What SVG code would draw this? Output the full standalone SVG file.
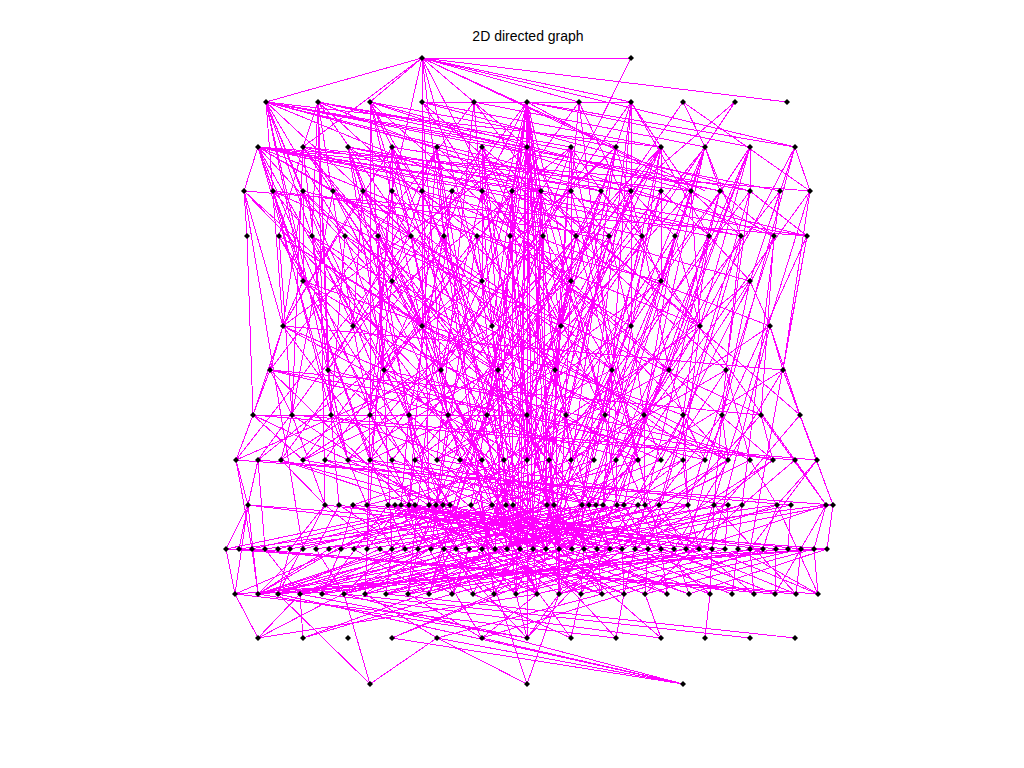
<svg xmlns="http://www.w3.org/2000/svg" xmlns:xlink="http://www.w3.org/1999/xlink" width="1024" height="768" viewBox="0 0 1024 768">
<style>
.e path{stroke:#ff00ff;stroke-width:1;fill:none;shape-rendering:crispEdges}
.nd{fill:#000}
.t{font-family:"Liberation Sans",Arial,sans-serif;font-size:14px;fill:#000}
</style>
<defs><path id="d" class="nd" d="M0-3L3 0L0 3L-3 0Z"/></defs>
<rect width="1024" height="768" fill="#fff"/>
<text class="t" x="528" y="41" text-anchor="middle">2D directed graph</text>
<g id="edges" class="e">
<path d="M422 58L631 58"/><path d="M422 58L266 102"/><path d="M422 58L787 102"/><path d="M422 58L303 147"/><path d="M422 58L370 102"/><path d="M422 58L392 191"/><path d="M422 58L444 236"/><path d="M422 58L527 147"/><path d="M422 58L616 147"/><path d="M422 58L631 102"/><path d="M422 58L579 102"/><path d="M422 58L482 281"/><path d="M422 58L705 191"/><path d="M422 58L422 326"/><path d="M422 58L561 326"/><path d="M631 58L543 236"/><path d="M422 58L795 147"/>
<path d="M266 102L527 147"/><path d="M266 102L661 147"/><path d="M266 102L601 191"/><path d="M266 102L345 236"/><path d="M266 102L283 326"/><path d="M266 102L303 191"/><path d="M266 102L312 236"/><path d="M266 102L303 281"/><path d="M266 102L482 191"/><path d="M266 102L437 147"/><path d="M266 102L392 415"/><path d="M266 102L750 191"/><path d="M266 102L348 460"/><path d="M266 102L555 370"/><path d="M266 102L720 191"/><path d="M266 102L807 236"/>
<path d="M318 102L303 147"/><path d="M318 102L312 236"/><path d="M318 102L353 326"/><path d="M318 102L328 370"/><path d="M318 102L541 191"/><path d="M318 102L571 147"/><path d="M318 102L331 415"/><path d="M318 102L325 505"/><path d="M318 102L720 191"/><path d="M318 102L411 236"/><path d="M318 102L612 370"/><path d="M318 102L780 191"/>
<path d="M370 102L411 236"/><path d="M370 102L422 191"/><path d="M370 102L616 147"/><path d="M370 102L691 191"/><path d="M370 102L370 415"/><path d="M370 102L422 326"/><path d="M370 102L392 147"/><path d="M370 102L392 549"/><path d="M370 102L669 370"/><path d="M370 102L774 236"/>
<path d="M422 102L527 102"/><path d="M422 102L441 370"/><path d="M422 102L661 147"/><path d="M422 102L750 191"/><path d="M422 102L429 505"/><path d="M422 102L482 191"/><path d="M422 102L726 370"/>
<path d="M474 102L631 102"/><path d="M474 102L705 147"/><path d="M474 102L541 191"/><path d="M474 102L492 326"/><path d="M474 102L437 460"/><path d="M474 102L270 370"/>
<path d="M527 102L527 147"/><path d="M527 102L512 191"/><path d="M527 102L541 191"/><path d="M527 102L510 236"/><path d="M527 102L543 236"/><path d="M527 102L482 281"/><path d="M527 102L571 281"/><path d="M527 102L492 326"/><path d="M527 102L561 326"/><path d="M527 102L498 370"/><path d="M527 102L527 415"/><path d="M527 102L527 460"/><path d="M527 102L520 549"/><path d="M527 102L516 594"/><path d="M527 102L527 638"/><path d="M527 102L555 370"/><path d="M527 102L482 191"/><path d="M527 102L795 147"/><path d="M527 102L750 147"/><path d="M527 102L774 236"/><path d="M527 102L554 505"/><path d="M527 102L547 505"/><path d="M527 102L533 549"/><path d="M527 102L328 370"/>
<path d="M579 102L571 191"/><path d="M579 102L642 236"/><path d="M579 102L616 415"/><path d="M579 102L384 370"/>
<path d="M631 102L616 147"/><path d="M631 102L661 147"/><path d="M631 102L631 326"/><path d="M631 102L709 236"/><path d="M631 102L603 505"/><path d="M631 102L582 505"/><path d="M631 102L441 370"/>
<path d="M683 102L705 147"/><path d="M683 102L810 191"/><path d="M735 102L705 147"/><path d="M735 102L631 191"/><path d="M683 102L498 370"/><path d="M735 102L555 370"/>
<path d="M258 147L244 191"/><path d="M258 147L541 191"/><path d="M258 147L631 191"/><path d="M258 147L411 236"/><path d="M258 147L642 236"/><path d="M258 147L482 281"/><path d="M258 147L422 326"/><path d="M258 147L807 236"/><path d="M258 147L384 370"/><path d="M258 147L409 415"/><path d="M258 147L348 460"/><path d="M258 147L810 191"/><path d="M258 147L273 191"/><path d="M258 147L303 281"/><path d="M258 147L709 236"/><path d="M258 147L429 549"/><path d="M258 147L700 326"/><path d="M258 147L741 236"/>
<path d="M303 147L279 236"/><path d="M303 147L378 236"/><path d="M303 147L328 370"/><path d="M303 147L571 191"/><path d="M303 147L392 281"/><path d="M303 147L292 415"/><path d="M303 147L582 505"/><path d="M303 147L770 326"/><path d="M303 147L691 191"/>
<path d="M348 147L363 191"/><path d="M348 147L741 236"/><path d="M348 147L384 370"/><path d="M348 147L441 370"/><path d="M348 147L601 191"/><path d="M348 147L452 594"/><path d="M348 147L631 326"/><path d="M348 147L495 549"/>
<path d="M392 147L392 281"/><path d="M392 147L422 191"/><path d="M392 147L661 191"/><path d="M392 147L448 415"/><path d="M392 147L367 549"/><path d="M392 147L546 549"/><path d="M392 147L283 326"/><path d="M392 147L537 594"/>
<path d="M437 147L444 236"/><path d="M437 147L392 281"/><path d="M437 147L571 281"/><path d="M437 147L409 505"/><path d="M437 147L507 549"/><path d="M437 147L353 326"/><path d="M437 147L494 594"/>
<path d="M482 147L482 281"/><path d="M482 147L452 191"/><path d="M482 147L527 460"/><path d="M482 147L612 370"/><path d="M482 147L384 370"/><path d="M482 147L645 505"/><path d="M482 147L700 326"/><path d="M482 147L520 549"/>
<path d="M527 147L527 415"/><path d="M527 147L512 191"/><path d="M527 147L576 236"/><path d="M527 147L487 415"/><path d="M527 147L571 460"/><path d="M527 147L559 594"/><path d="M527 147L283 326"/><path d="M527 147L533 549"/>
<path d="M571 147L571 281"/><path d="M571 147L541 191"/><path d="M571 147L601 191"/><path d="M571 147L555 370"/><path d="M571 147L510 236"/><path d="M571 147L638 460"/><path d="M571 147L444 549"/><path d="M571 147L353 326"/><path d="M571 147L546 549"/>
<path d="M616 147L561 326"/><path d="M616 147L642 236"/><path d="M616 147L571 191"/><path d="M616 147L527 415"/><path d="M616 147L533 549"/><path d="M616 147L422 326"/><path d="M616 147L559 549"/>
<path d="M661 147L661 281"/><path d="M661 147L609 236"/><path d="M661 147L691 191"/><path d="M661 147L498 370"/><path d="M661 147L561 326"/><path d="M661 147L603 505"/><path d="M661 147L482 549"/><path d="M661 147L492 326"/><path d="M661 147L572 549"/>
<path d="M705 147L661 281"/><path d="M705 147L720 191"/><path d="M705 147L631 326"/><path d="M705 147L741 236"/><path d="M705 147L624 505"/><path d="M705 147L561 326"/><path d="M705 147L584 549"/>
<path d="M750 147L750 191"/><path d="M750 147L700 326"/><path d="M750 147L669 370"/><path d="M750 147L596 505"/><path d="M750 147L631 326"/><path d="M750 147L597 549"/>
<path d="M795 147L810 191"/><path d="M795 147L750 281"/><path d="M795 147L686 549"/><path d="M795 147L700 326"/>
<path d="M244 191L247 236"/><path d="M244 191L283 326"/><path d="M244 191L807 236"/><path d="M244 191L441 370"/><path d="M244 191L303 549"/><path d="M244 191L504 460"/>
<path d="M273 191L312 236"/><path d="M273 191L331 415"/><path d="M273 191L609 236"/><path d="M273 191L370 460"/><path d="M273 191L388 505"/><path d="M273 191L561 326"/>
<path d="M303 191L345 236"/><path d="M303 191L303 281"/><path d="M303 191L498 370"/><path d="M303 191L283 326"/><path d="M303 191L469 549"/><path d="M303 191L661 281"/>
<path d="M333 191L378 236"/><path d="M333 191L422 326"/><path d="M333 191L292 415"/><path d="M333 191L537 594"/><path d="M333 191L705 460"/>
<path d="M363 191L411 236"/><path d="M363 191L353 326"/><path d="M363 191L612 370"/><path d="M363 191L520 549"/><path d="M363 191L283 326"/>
<path d="M392 191L444 236"/><path d="M392 191L392 281"/><path d="M392 191L370 415"/><path d="M392 191L596 505"/>
<path d="M422 191L477 236"/><path d="M422 191L422 326"/><path d="M422 191L527 460"/><path d="M422 191L572 549"/><path d="M422 191L750 281"/>
<path d="M452 191L510 236"/><path d="M452 191L482 281"/><path d="M452 191L409 415"/><path d="M452 191L408 594"/><path d="M452 191L258 460"/>
<path d="M482 191L543 236"/><path d="M482 191L441 370"/><path d="M482 191L566 415"/><path d="M482 191L559 549"/><path d="M482 191L728 460"/>
<path d="M512 191L527 415"/><path d="M512 191L576 236"/><path d="M512 191L448 415"/><path d="M512 191L495 549"/><path d="M512 191L325 460"/><path d="M512 191L513 505"/>
<path d="M541 191L543 236"/><path d="M541 191L492 326"/><path d="M541 191L605 415"/><path d="M541 191L429 594"/><path d="M541 191L800 415"/><path d="M541 191L533 549"/>
<path d="M571 191L609 236"/><path d="M571 191L571 281"/><path d="M571 191L661 549"/><path d="M571 191L370 460"/>
<path d="M601 191L642 236"/><path d="M601 191L561 326"/><path d="M601 191L498 370"/><path d="M601 191L443 505"/><path d="M601 191L795 460"/>
<path d="M631 191L675 236"/><path d="M631 191L631 326"/><path d="M631 191L555 370"/><path d="M631 191L507 549"/><path d="M631 191L415 460"/>
<path d="M661 191L709 236"/><path d="M661 191L661 281"/><path d="M661 191L594 460"/><path d="M661 191L546 549"/><path d="M661 191L460 460"/>
<path d="M691 191L741 236"/><path d="M691 191L700 326"/><path d="M691 191L589 505"/><path d="M691 191L487 415"/>
<path d="M720 191L774 236"/><path d="M720 191L669 370"/><path d="M720 191L624 594"/><path d="M720 191L527 460"/>
<path d="M750 191L807 236"/><path d="M750 191L726 370"/><path d="M750 191L659 505"/><path d="M750 191L549 460"/>
<path d="M780 191L750 281"/><path d="M780 191L742 505"/><path d="M780 191L571 460"/>
<path d="M810 191L783 370"/><path d="M810 191L699 549"/><path d="M810 191L616 460"/>
<path d="M247 236L253 415"/>
<path d="M279 236L303 281"/><path d="M279 236L292 415"/><path d="M279 236L498 370"/><path d="M279 236L450 505"/><path d="M279 236L638 460"/>
<path d="M312 236L328 370"/><path d="M312 236L353 326"/><path d="M312 236L527 415"/><path d="M312 236L533 549"/><path d="M312 236L683 460"/>
<path d="M345 236L392 281"/><path d="M345 236L331 415"/><path d="M345 236L473 594"/><path d="M345 236L728 460"/>
<path d="M378 236L384 370"/><path d="M378 236L422 326"/><path d="M378 236L415 460"/><path d="M378 236L582 505"/><path d="M378 236L761 415"/>
<path d="M411 236L441 370"/><path d="M411 236L482 281"/><path d="M411 236L610 549"/><path d="M411 236L236 460"/>
<path d="M444 236L492 326"/><path d="M444 236L409 415"/><path d="M444 236L513 505"/><path d="M444 236L494 594"/><path d="M444 236L281 460"/>
<path d="M477 236L482 281"/><path d="M477 236L555 370"/><path d="M477 236L431 549"/><path d="M477 236L303 460"/>
<path d="M510 236L527 415"/><path d="M510 236L487 415"/><path d="M510 236L537 594"/><path d="M510 236L773 460"/>
<path d="M543 236L571 281"/><path d="M543 236L527 460"/><path d="M543 236L418 549"/><path d="M543 236L348 460"/><path d="M543 236L547 505"/>
<path d="M576 236L561 326"/><path d="M576 236L612 370"/><path d="M576 236L520 549"/><path d="M576 236L392 460"/>
<path d="M609 236L631 326"/><path d="M609 236L566 415"/><path d="M609 236L547 505"/><path d="M609 236L437 460"/>
<path d="M642 236L661 281"/><path d="M642 236L669 370"/><path d="M642 236L559 594"/><path d="M642 236L482 460"/>
<path d="M675 236L700 326"/><path d="M675 236L644 415"/><path d="M675 236L572 549"/><path d="M675 236L527 460"/>
<path d="M709 236L750 281"/><path d="M709 236L683 415"/><path d="M709 236L617 505"/><path d="M709 236L571 460"/>
<path d="M741 236L726 370"/><path d="M741 236L648 549"/><path d="M741 236L616 460"/>
<path d="M774 236L761 415"/><path d="M774 236L688 505"/><path d="M774 236L661 460"/>
<path d="M807 236L783 370"/><path d="M807 236L750 549"/><path d="M807 236L705 460"/>
<path d="M303 281L283 326"/><path d="M303 281L353 326"/><path d="M303 281L527 415"/><path d="M303 281L456 549"/><path d="M303 281L683 415"/>
<path d="M392 281L422 326"/><path d="M392 281L370 460"/><path d="M392 281L533 549"/><path d="M392 281L750 460"/>
<path d="M482 281L492 326"/><path d="M482 281L441 370"/><path d="M482 281L602 594"/><path d="M482 281L258 460"/><path d="M482 281L507 549"/>
<path d="M571 281L561 326"/><path d="M571 281L605 415"/><path d="M571 281L482 549"/><path d="M571 281L303 460"/><path d="M571 281L559 549"/>
<path d="M661 281L631 326"/><path d="M661 281L700 326"/><path d="M661 281L546 549"/><path d="M661 281L415 460"/>
<path d="M750 281L770 326"/><path d="M750 281L722 415"/><path d="M750 281L603 505"/><path d="M750 281L527 460"/>
<path d="M283 326L270 370"/><path d="M283 326L253 415"/><path d="M283 326L527 460"/><path d="M283 326L415 505"/><path d="M283 326L594 460"/><path d="M283 326L783 370"/>
<path d="M353 326L328 370"/><path d="M353 326L370 415"/><path d="M353 326L559 549"/><path d="M353 326L661 460"/>
<path d="M422 326L384 370"/><path d="M422 326L448 415"/><path d="M422 326L584 549"/><path d="M422 326L728 460"/>
<path d="M492 326L498 370"/><path d="M492 326L506 505"/><path d="M492 326L516 594"/><path d="M492 326L281 460"/>
<path d="M561 326L555 370"/><path d="M561 326L533 549"/><path d="M561 326L429 594"/><path d="M561 326L348 460"/><path d="M561 326L546 549"/>
<path d="M631 326L612 370"/><path d="M631 326L644 415"/><path d="M631 326L520 549"/><path d="M631 326L437 460"/>
<path d="M700 326L669 370"/><path d="M700 326L683 460"/><path d="M700 326L589 505"/><path d="M700 326L504 460"/>
<path d="M770 326L783 370"/><path d="M770 326L800 415"/><path d="M770 326L712 549"/><path d="M770 326L571 460"/>
<path d="M270 370L253 415"/><path d="M270 370L292 415"/><path d="M270 370L773 460"/><path d="M270 370L409 505"/><path d="M270 370L638 460"/><path d="M270 370L761 415"/>
<path d="M328 370L331 415"/><path d="M328 370L348 460"/><path d="M328 370L546 549"/><path d="M328 370L705 460"/>
<path d="M384 370L370 415"/><path d="M384 370L409 415"/><path d="M384 370L597 549"/><path d="M384 370L773 460"/>
<path d="M441 370L448 415"/><path d="M441 370L482 460"/><path d="M441 370L537 594"/><path d="M441 370L236 460"/>
<path d="M498 370L487 415"/><path d="M498 370L513 505"/><path d="M498 370L444 549"/><path d="M498 370L303 460"/>
<path d="M555 370L566 415"/><path d="M555 370L527 460"/><path d="M555 370L482 549"/><path d="M555 370L370 460"/><path d="M555 370L559 594"/>
<path d="M612 370L605 415"/><path d="M612 370L638 460"/><path d="M612 370L533 549"/><path d="M612 370L437 460"/>
<path d="M669 370L683 415"/><path d="M669 370L644 415"/><path d="M669 370L559 594"/><path d="M669 370L504 460"/>
<path d="M726 370L722 415"/><path d="M726 370L750 460"/><path d="M726 370L610 549"/><path d="M726 370L571 460"/>
<path d="M783 370L800 415"/><path d="M783 370L817 460"/><path d="M783 370L674 549"/><path d="M783 370L638 460"/><path d="M783 370L833 505"/>
<path d="M253 415L236 460"/><path d="M253 415L527 415"/><path d="M253 415L303 460"/><path d="M253 415L443 505"/><path d="M253 415L795 460"/>
<path d="M292 415L281 460"/><path d="M292 415L325 505"/><path d="M292 415L495 549"/><path d="M292 415L817 460"/>
<path d="M331 415L348 460"/><path d="M331 415L339 505"/><path d="M331 415L589 505"/>
<path d="M370 415L392 460"/><path d="M370 415L367 549"/><path d="M370 415L516 594"/>
<path d="M409 415L415 460"/><path d="M409 415L401 505"/><path d="M409 415L572 549"/>
<path d="M448 415L460 460"/><path d="M448 415L436 505"/><path d="M448 415L602 594"/>
<path d="M487 415L504 460"/><path d="M487 415L471 505"/><path d="M487 415L418 549"/>
<path d="M527 415L527 460"/><path d="M527 415L547 505"/><path d="M527 415L559 549"/><path d="M527 415L520 549"/>
<path d="M566 415L571 460"/><path d="M566 415L589 505"/><path d="M566 415L456 549"/>
<path d="M605 415L594 460"/><path d="M605 415L617 505"/><path d="M605 415L533 549"/>
<path d="M644 415L661 460"/><path d="M644 415L645 505"/><path d="M644 415L546 549"/>
<path d="M683 415L705 460"/><path d="M683 415L688 505"/><path d="M683 415L581 594"/>
<path d="M722 415L728 460"/><path d="M722 415L714 505"/><path d="M722 415L622 549"/>
<path d="M761 415L773 460"/><path d="M761 415L826 505"/><path d="M761 415L635 549"/>
<path d="M800 415L817 460"/><path d="M800 415L833 505"/><path d="M800 415L686 549"/>
<path d="M236 460L248 505"/><path d="M236 460L252 549"/><path d="M236 460L833 505"/><path d="M258 460L248 505"/><path d="M258 460L265 549"/><path d="M258 460L791 505"/>
<path d="M281 460L450 505"/><path d="M303 460L554 505"/><path d="M325 460L596 505"/><path d="M348 460L638 505"/><path d="M370 460L688 505"/><path d="M392 460L547 505"/><path d="M415 460L603 505"/><path d="M437 460L728 505"/><path d="M460 460L589 505"/><path d="M482 460L353 505"/><path d="M504 460L401 505"/><path d="M527 460L429 505"/><path d="M549 460L367 505"/><path d="M571 460L443 505"/><path d="M594 460L471 505"/><path d="M616 460L513 505"/><path d="M638 460L492 505"/><path d="M661 460L547 505"/><path d="M683 460L582 505"/><path d="M705 460L624 505"/><path d="M728 460L645 505"/><path d="M750 460L659 505"/><path d="M773 460L714 505"/><path d="M795 460L742 505"/><path d="M817 460L777 505"/>
<path d="M281 460L325 505"/><path d="M348 460L367 505"/><path d="M415 460L409 505"/><path d="M482 460L492 505"/><path d="M549 460L554 505"/><path d="M616 460L617 505"/><path d="M683 460L688 505"/><path d="M750 460L777 505"/><path d="M795 460L826 505"/>
<path d="M281 460L546 549"/><path d="M325 460L572 549"/><path d="M370 460L610 549"/><path d="M415 460L520 549"/><path d="M460 460L559 549"/><path d="M504 460L546 549"/><path d="M549 460L507 549"/><path d="M594 460L482 549"/><path d="M638 460L533 549"/><path d="M683 460L559 549"/><path d="M728 460L597 549"/><path d="M773 460L635 549"/><path d="M817 460L750 549"/>
<path d="M248 505L827 549"/><path d="M248 505L610 549"/><path d="M258 594L527 505"/><path d="M258 594L547 505"/><path d="M278 594L554 505"/><path d="M258 594L482 549"/><path d="M235 594L248 505"/><path d="M226 549L818 594"/><path d="M239 549L775 594"/><path d="M252 549L796 594"/><path d="M235 594L827 549"/><path d="M258 594L814 549"/><path d="M278 594L763 549"/><path d="M300 594L788 549"/><path d="M248 505L226 549"/>
<path d="M325 505L699 549"/><path d="M339 505L622 549"/><path d="M353 505L725 549"/><path d="M367 505L763 549"/><path d="M388 505L801 549"/><path d="M395 505L648 549"/><path d="M401 505L674 549"/><path d="M409 505L597 549"/><path d="M415 505L712 549"/><path d="M429 505L776 549"/><path d="M436 505L226 549"/><path d="M443 505L252 549"/><path d="M450 505L278 549"/><path d="M471 505L303 549"/><path d="M492 505L329 549"/><path d="M506 505L354 549"/><path d="M513 505L290 549"/><path d="M547 505L392 549"/><path d="M554 505L239 549"/><path d="M582 505L418 549"/><path d="M589 505L265 549"/><path d="M596 505L444 549"/><path d="M603 505L316 549"/><path d="M617 505L469 549"/><path d="M624 505L341 549"/><path d="M638 505L495 549"/><path d="M645 505L367 549"/><path d="M659 505L520 549"/><path d="M688 505L405 549"/><path d="M714 505L546 549"/><path d="M728 505L431 549"/><path d="M742 505L572 549"/><path d="M777 505L456 549"/><path d="M791 505L584 549"/><path d="M826 505L482 549"/><path d="M833 505L610 549"/>
<path d="M344 594L659 505"/><path d="M386 594L617 505"/><path d="M429 594L688 505"/><path d="M473 594L742 505"/><path d="M516 594L777 505"/><path d="M559 594L826 505"/><path d="M602 594L388 505"/><path d="M645 594L429 505"/><path d="M689 594L450 505"/><path d="M732 594L492 505"/><path d="M775 594L554 505"/><path d="M818 594L603 505"/><path d="M235 594L443 505"/><path d="M300 594L596 505"/><path d="M365 594L638 505"/>
<path d="M248 505L239 549"/><path d="M248 505L258 594"/><path d="M325 505L290 549"/><path d="M325 505L380 549"/><path d="M325 505L278 594"/><path d="M339 505L316 549"/><path d="M339 505L473 594"/><path d="M353 505L341 549"/><path d="M353 505L537 594"/><path d="M367 505L392 549"/><path d="M388 505L405 549"/><path d="M388 505L322 594"/><path d="M395 505L431 549"/><path d="M401 505L367 549"/><path d="M401 505L581 594"/><path d="M409 505L418 549"/><path d="M415 505L444 549"/><path d="M415 505L258 594"/><path d="M429 505L456 549"/><path d="M436 505L469 549"/><path d="M436 505L344 594"/><path d="M443 505L482 549"/><path d="M450 505L495 549"/><path d="M450 505L624 594"/><path d="M471 505L507 549"/><path d="M492 505L520 549"/><path d="M492 505L365 594"/><path d="M506 505L533 549"/><path d="M506 505L667 594"/><path d="M513 505L546 549"/><path d="M513 505L452 594"/><path d="M547 505L559 549"/><path d="M554 505L572 549"/><path d="M554 505L300 594"/><path d="M582 505L584 549"/><path d="M589 505L597 549"/><path d="M589 505L408 594"/><path d="M596 505L610 549"/><path d="M603 505L622 549"/><path d="M603 505L710 594"/><path d="M617 505L635 549"/><path d="M624 505L648 549"/><path d="M624 505L494 594"/><path d="M638 505L661 549"/><path d="M645 505L674 549"/><path d="M645 505L754 594"/><path d="M659 505L686 549"/><path d="M688 505L699 549"/><path d="M688 505L559 594"/><path d="M714 505L712 549"/><path d="M714 505L796 594"/><path d="M728 505L725 549"/><path d="M742 505L738 549"/><path d="M742 505L645 594"/><path d="M777 505L763 549"/><path d="M777 505L818 594"/><path d="M791 505L788 549"/><path d="M826 505L814 549"/><path d="M826 505L775 594"/><path d="M833 505L827 549"/>
<path d="M235 594L226 549"/><path d="M258 594L252 549"/><path d="M258 594L303 549"/><path d="M258 594L329 549"/><path d="M258 594L431 549"/><path d="M258 594L520 549"/><path d="M278 594L290 549"/><path d="M278 594L380 549"/><path d="M278 594L546 549"/><path d="M300 594L265 549"/><path d="M300 594L405 549"/><path d="M300 594L572 549"/><path d="M322 594L341 549"/><path d="M322 594L482 549"/><path d="M322 594L610 549"/><path d="M344 594L316 549"/><path d="M344 594L456 549"/><path d="M344 594L533 549"/><path d="M365 594L367 549"/><path d="M365 594L507 549"/><path d="M365 594L648 549"/><path d="M386 594L392 549"/><path d="M386 594L546 549"/><path d="M386 594L686 549"/><path d="M408 594L418 549"/><path d="M408 594L559 549"/><path d="M408 594L712 549"/><path d="M429 594L444 549"/><path d="M429 594L584 549"/><path d="M429 594L354 549"/><path d="M452 594L469 549"/><path d="M452 594L622 549"/><path d="M452 594L380 549"/><path d="M473 594L495 549"/><path d="M473 594L661 549"/><path d="M473 594L405 549"/><path d="M494 594L520 549"/><path d="M494 594L686 549"/><path d="M494 594L444 549"/><path d="M516 594L533 549"/><path d="M516 594L699 549"/><path d="M516 594L456 549"/><path d="M537 594L546 549"/><path d="M537 594L725 549"/><path d="M537 594L482 549"/><path d="M559 594L559 549"/><path d="M559 594L750 549"/><path d="M559 594L495 549"/><path d="M581 594L584 549"/><path d="M581 594L776 549"/><path d="M581 594L520 549"/><path d="M602 594L597 549"/><path d="M602 594L469 549"/><path d="M602 594L801 549"/><path d="M624 594L622 549"/><path d="M624 594L507 549"/><path d="M624 594L763 549"/><path d="M645 594L648 549"/><path d="M645 594L533 549"/><path d="M645 594L814 549"/><path d="M667 594L661 549"/><path d="M667 594L546 549"/><path d="M689 594L674 549"/><path d="M689 594L559 549"/><path d="M689 594L827 549"/><path d="M710 594L712 549"/><path d="M710 594L584 549"/><path d="M732 594L738 549"/><path d="M732 594L610 549"/><path d="M754 594L750 549"/><path d="M754 594L635 549"/><path d="M775 594L776 549"/><path d="M775 594L661 549"/><path d="M796 594L801 549"/><path d="M796 594L686 549"/><path d="M818 594L814 549"/><path d="M818 594L738 549"/>
<path d="M258 638L235 594"/><path d="M258 638L300 594"/><path d="M258 638L537 594"/><path d="M258 638L429 549"/><path d="M303 638L300 594"/><path d="M303 638L452 594"/><path d="M303 638L546 549"/><path d="M392 638L494 594"/><path d="M392 638L610 549"/><path d="M437 638L365 594"/><path d="M437 638L602 594"/><path d="M437 638L527 684"/><path d="M482 638L408 594"/><path d="M482 638L537 594"/><path d="M482 638L624 594"/><path d="M482 638L429 549"/><path d="M527 638L516 594"/><path d="M527 638L559 594"/><path d="M527 638L258 594"/><path d="M527 638L300 594"/><path d="M527 638L444 549"/><path d="M527 638L610 549"/><path d="M571 638L581 594"/><path d="M571 638L473 594"/><path d="M571 638L507 549"/><path d="M616 638L624 594"/><path d="M616 638L235 594"/><path d="M616 638L533 549"/><path d="M661 638L645 594"/><path d="M661 638L322 594"/><path d="M661 638L559 549"/><path d="M705 638L710 594"/><path d="M750 638L344 594"/><path d="M795 638L386 594"/>
<path d="M370 684L278 594"/><path d="M370 684L437 638"/><path d="M370 684L344 594"/><path d="M527 684L559 594"/><path d="M527 684L482 549"/><path d="M683 684L437 638"/><path d="M683 684L482 638"/><path d="M683 684L392 638"/><path d="M683 684L344 594"/><path d="M683 684L278 594"/>
</g>
<g id="nodes">
<g id="a0"><use href="#d" x="422" y="58"/></g><g id="a1"><use href="#d" x="631" y="58"/></g>
<g id="b0"><use href="#d" x="266" y="102"/></g><g id="b1"><use href="#d" x="318" y="102"/></g><g id="b2"><use href="#d" x="370" y="102"/></g><g id="b3"><use href="#d" x="422" y="102"/></g><g id="b4"><use href="#d" x="474" y="102"/></g><g id="b5"><use href="#d" x="527" y="102"/></g><g id="b6"><use href="#d" x="579" y="102"/></g><g id="b7"><use href="#d" x="631" y="102"/></g><g id="b8"><use href="#d" x="683" y="102"/></g><g id="b9"><use href="#d" x="735" y="102"/></g><g id="b10"><use href="#d" x="787" y="102"/></g>
<g id="c0"><use href="#d" x="258" y="147"/></g><g id="c1"><use href="#d" x="303" y="147"/></g><g id="c2"><use href="#d" x="348" y="147"/></g><g id="c3"><use href="#d" x="392" y="147"/></g><g id="c4"><use href="#d" x="437" y="147"/></g><g id="c5"><use href="#d" x="482" y="147"/></g><g id="c6"><use href="#d" x="527" y="147"/></g><g id="c7"><use href="#d" x="571" y="147"/></g><g id="c8"><use href="#d" x="616" y="147"/></g><g id="c9"><use href="#d" x="661" y="147"/></g><g id="c10"><use href="#d" x="705" y="147"/></g><g id="c11"><use href="#d" x="750" y="147"/></g><g id="c12"><use href="#d" x="795" y="147"/></g>
<g id="d0"><use href="#d" x="244" y="191"/></g><g id="d1"><use href="#d" x="273" y="191"/></g><g id="d2"><use href="#d" x="303" y="191"/></g><g id="d3"><use href="#d" x="333" y="191"/></g><g id="d4"><use href="#d" x="363" y="191"/></g><g id="d5"><use href="#d" x="392" y="191"/></g><g id="d6"><use href="#d" x="422" y="191"/></g><g id="d7"><use href="#d" x="452" y="191"/></g><g id="d8"><use href="#d" x="482" y="191"/></g><g id="d9"><use href="#d" x="512" y="191"/></g><g id="d10"><use href="#d" x="541" y="191"/></g><g id="d11"><use href="#d" x="571" y="191"/></g><g id="d12"><use href="#d" x="601" y="191"/></g><g id="d13"><use href="#d" x="631" y="191"/></g><g id="d14"><use href="#d" x="661" y="191"/></g><g id="d15"><use href="#d" x="691" y="191"/></g><g id="d16"><use href="#d" x="720" y="191"/></g><g id="d17"><use href="#d" x="750" y="191"/></g><g id="d18"><use href="#d" x="780" y="191"/></g><g id="d19"><use href="#d" x="810" y="191"/></g>
<g id="e0"><use href="#d" x="247" y="236"/></g><g id="e1"><use href="#d" x="279" y="236"/></g><g id="e2"><use href="#d" x="312" y="236"/></g><g id="e3"><use href="#d" x="345" y="236"/></g><g id="e4"><use href="#d" x="378" y="236"/></g><g id="e5"><use href="#d" x="411" y="236"/></g><g id="e6"><use href="#d" x="444" y="236"/></g><g id="e7"><use href="#d" x="477" y="236"/></g><g id="e8"><use href="#d" x="510" y="236"/></g><g id="e9"><use href="#d" x="543" y="236"/></g><g id="e10"><use href="#d" x="576" y="236"/></g><g id="e11"><use href="#d" x="609" y="236"/></g><g id="e12"><use href="#d" x="642" y="236"/></g><g id="e13"><use href="#d" x="675" y="236"/></g><g id="e14"><use href="#d" x="709" y="236"/></g><g id="e15"><use href="#d" x="741" y="236"/></g><g id="e16"><use href="#d" x="774" y="236"/></g><g id="e17"><use href="#d" x="807" y="236"/></g>
<g id="f0"><use href="#d" x="303" y="281"/></g><g id="f1"><use href="#d" x="392" y="281"/></g><g id="f2"><use href="#d" x="482" y="281"/></g><g id="f3"><use href="#d" x="571" y="281"/></g><g id="f4"><use href="#d" x="661" y="281"/></g><g id="f5"><use href="#d" x="750" y="281"/></g>
<g id="g0"><use href="#d" x="283" y="326"/></g><g id="g1"><use href="#d" x="353" y="326"/></g><g id="g2"><use href="#d" x="422" y="326"/></g><g id="g3"><use href="#d" x="492" y="326"/></g><g id="g4"><use href="#d" x="561" y="326"/></g><g id="g5"><use href="#d" x="631" y="326"/></g><g id="g6"><use href="#d" x="700" y="326"/></g><g id="g7"><use href="#d" x="770" y="326"/></g>
<g id="h0"><use href="#d" x="270" y="370"/></g><g id="h1"><use href="#d" x="328" y="370"/></g><g id="h2"><use href="#d" x="384" y="370"/></g><g id="h3"><use href="#d" x="441" y="370"/></g><g id="h4"><use href="#d" x="498" y="370"/></g><g id="h5"><use href="#d" x="555" y="370"/></g><g id="h6"><use href="#d" x="612" y="370"/></g><g id="h7"><use href="#d" x="669" y="370"/></g><g id="h8"><use href="#d" x="726" y="370"/></g><g id="h9"><use href="#d" x="783" y="370"/></g>
<g id="i0"><use href="#d" x="253" y="415"/></g><g id="i1"><use href="#d" x="292" y="415"/></g><g id="i2"><use href="#d" x="331" y="415"/></g><g id="i3"><use href="#d" x="370" y="415"/></g><g id="i4"><use href="#d" x="409" y="415"/></g><g id="i5"><use href="#d" x="448" y="415"/></g><g id="i6"><use href="#d" x="487" y="415"/></g><g id="i7"><use href="#d" x="527" y="415"/></g><g id="i8"><use href="#d" x="566" y="415"/></g><g id="i9"><use href="#d" x="605" y="415"/></g><g id="i10"><use href="#d" x="644" y="415"/></g><g id="i11"><use href="#d" x="683" y="415"/></g><g id="i12"><use href="#d" x="722" y="415"/></g><g id="i13"><use href="#d" x="761" y="415"/></g><g id="i14"><use href="#d" x="800" y="415"/></g>
<g id="j0"><use href="#d" x="236" y="460"/></g><g id="j1"><use href="#d" x="258" y="460"/></g><g id="j2"><use href="#d" x="281" y="460"/></g><g id="j3"><use href="#d" x="303" y="460"/></g><g id="j4"><use href="#d" x="325" y="460"/></g><g id="j5"><use href="#d" x="348" y="460"/></g><g id="j6"><use href="#d" x="370" y="460"/></g><g id="j7"><use href="#d" x="392" y="460"/></g><g id="j8"><use href="#d" x="415" y="460"/></g><g id="j9"><use href="#d" x="437" y="460"/></g><g id="j10"><use href="#d" x="460" y="460"/></g><g id="j11"><use href="#d" x="482" y="460"/></g><g id="j12"><use href="#d" x="504" y="460"/></g><g id="j13"><use href="#d" x="527" y="460"/></g><g id="j14"><use href="#d" x="549" y="460"/></g><g id="j15"><use href="#d" x="571" y="460"/></g><g id="j16"><use href="#d" x="594" y="460"/></g><g id="j17"><use href="#d" x="616" y="460"/></g><g id="j18"><use href="#d" x="638" y="460"/></g><g id="j19"><use href="#d" x="661" y="460"/></g><g id="j20"><use href="#d" x="683" y="460"/></g><g id="j21"><use href="#d" x="705" y="460"/></g><g id="j22"><use href="#d" x="728" y="460"/></g><g id="j23"><use href="#d" x="750" y="460"/></g><g id="j24"><use href="#d" x="773" y="460"/></g><g id="j25"><use href="#d" x="795" y="460"/></g><g id="j26"><use href="#d" x="817" y="460"/></g>
<g id="k0"><use href="#d" x="248" y="505"/></g><g id="k1"><use href="#d" x="325" y="505"/></g><g id="k2"><use href="#d" x="339" y="505"/></g><g id="k3"><use href="#d" x="353" y="505"/></g><g id="k4"><use href="#d" x="367" y="505"/></g><g id="k5"><use href="#d" x="388" y="505"/></g><g id="k6"><use href="#d" x="395" y="505"/></g><g id="k7"><use href="#d" x="401" y="505"/></g><g id="k8"><use href="#d" x="409" y="505"/></g><g id="k9"><use href="#d" x="415" y="505"/></g><g id="k10"><use href="#d" x="429" y="505"/></g><g id="k11"><use href="#d" x="436" y="505"/></g><g id="k12"><use href="#d" x="443" y="505"/></g><g id="k13"><use href="#d" x="450" y="505"/></g><g id="k14"><use href="#d" x="471" y="505"/></g><g id="k15"><use href="#d" x="492" y="505"/></g><g id="k16"><use href="#d" x="506" y="505"/></g><g id="k17"><use href="#d" x="513" y="505"/></g><g id="k18"><use href="#d" x="547" y="505"/></g><g id="k19"><use href="#d" x="554" y="505"/></g><g id="k20"><use href="#d" x="582" y="505"/></g><g id="k21"><use href="#d" x="589" y="505"/></g><g id="k22"><use href="#d" x="596" y="505"/></g><g id="k23"><use href="#d" x="603" y="505"/></g><g id="k24"><use href="#d" x="617" y="505"/></g><g id="k25"><use href="#d" x="624" y="505"/></g><g id="k26"><use href="#d" x="638" y="505"/></g><g id="k27"><use href="#d" x="645" y="505"/></g><g id="k28"><use href="#d" x="659" y="505"/></g><g id="k29"><use href="#d" x="688" y="505"/></g><g id="k30"><use href="#d" x="714" y="505"/></g><g id="k31"><use href="#d" x="728" y="505"/></g><g id="k32"><use href="#d" x="742" y="505"/></g><g id="k33"><use href="#d" x="777" y="505"/></g><g id="k34"><use href="#d" x="791" y="505"/></g><g id="k35"><use href="#d" x="826" y="505"/></g><g id="k36"><use href="#d" x="833" y="505"/></g>
<g id="l0"><use href="#d" x="226" y="549"/></g><g id="l1"><use href="#d" x="239" y="549"/></g><g id="l2"><use href="#d" x="252" y="549"/></g><g id="l3"><use href="#d" x="265" y="549"/></g><g id="l4"><use href="#d" x="278" y="549"/></g><g id="l5"><use href="#d" x="290" y="549"/></g><g id="l6"><use href="#d" x="303" y="549"/></g><g id="l7"><use href="#d" x="316" y="549"/></g><g id="l8"><use href="#d" x="329" y="549"/></g><g id="l9"><use href="#d" x="341" y="549"/></g><g id="l10"><use href="#d" x="354" y="549"/></g><g id="l11"><use href="#d" x="367" y="549"/></g><g id="l12"><use href="#d" x="380" y="549"/></g><g id="l13"><use href="#d" x="392" y="549"/></g><g id="l14"><use href="#d" x="405" y="549"/></g><g id="l15"><use href="#d" x="418" y="549"/></g><g id="l16"><use href="#d" x="431" y="549"/></g><g id="l17"><use href="#d" x="444" y="549"/></g><g id="l18"><use href="#d" x="456" y="549"/></g><g id="l19"><use href="#d" x="469" y="549"/></g><g id="l20"><use href="#d" x="482" y="549"/></g><g id="l21"><use href="#d" x="495" y="549"/></g><g id="l22"><use href="#d" x="507" y="549"/></g><g id="l23"><use href="#d" x="520" y="549"/></g><g id="l24"><use href="#d" x="533" y="549"/></g><g id="l25"><use href="#d" x="546" y="549"/></g><g id="l26"><use href="#d" x="559" y="549"/></g><g id="l27"><use href="#d" x="572" y="549"/></g><g id="l28"><use href="#d" x="584" y="549"/></g><g id="l29"><use href="#d" x="597" y="549"/></g><g id="l30"><use href="#d" x="610" y="549"/></g><g id="l31"><use href="#d" x="622" y="549"/></g><g id="l32"><use href="#d" x="635" y="549"/></g><g id="l33"><use href="#d" x="648" y="549"/></g><g id="l34"><use href="#d" x="661" y="549"/></g><g id="l35"><use href="#d" x="674" y="549"/></g><g id="l36"><use href="#d" x="686" y="549"/></g><g id="l37"><use href="#d" x="699" y="549"/></g><g id="l38"><use href="#d" x="712" y="549"/></g><g id="l39"><use href="#d" x="725" y="549"/></g><g id="l40"><use href="#d" x="738" y="549"/></g><g id="l41"><use href="#d" x="750" y="549"/></g><g id="l42"><use href="#d" x="763" y="549"/></g><g id="l43"><use href="#d" x="776" y="549"/></g><g id="l44"><use href="#d" x="788" y="549"/></g><g id="l45"><use href="#d" x="801" y="549"/></g><g id="l46"><use href="#d" x="814" y="549"/></g><g id="l47"><use href="#d" x="827" y="549"/></g>
<g id="m0"><use href="#d" x="235" y="594"/></g><g id="m1"><use href="#d" x="258" y="594"/></g><g id="m2"><use href="#d" x="278" y="594"/></g><g id="m3"><use href="#d" x="300" y="594"/></g><g id="m4"><use href="#d" x="322" y="594"/></g><g id="m5"><use href="#d" x="344" y="594"/></g><g id="m6"><use href="#d" x="365" y="594"/></g><g id="m7"><use href="#d" x="386" y="594"/></g><g id="m8"><use href="#d" x="408" y="594"/></g><g id="m9"><use href="#d" x="429" y="594"/></g><g id="m10"><use href="#d" x="452" y="594"/></g><g id="m11"><use href="#d" x="473" y="594"/></g><g id="m12"><use href="#d" x="494" y="594"/></g><g id="m13"><use href="#d" x="516" y="594"/></g><g id="m14"><use href="#d" x="537" y="594"/></g><g id="m15"><use href="#d" x="559" y="594"/></g><g id="m16"><use href="#d" x="581" y="594"/></g><g id="m17"><use href="#d" x="602" y="594"/></g><g id="m18"><use href="#d" x="624" y="594"/></g><g id="m19"><use href="#d" x="645" y="594"/></g><g id="m20"><use href="#d" x="667" y="594"/></g><g id="m21"><use href="#d" x="689" y="594"/></g><g id="m22"><use href="#d" x="710" y="594"/></g><g id="m23"><use href="#d" x="732" y="594"/></g><g id="m24"><use href="#d" x="754" y="594"/></g><g id="m25"><use href="#d" x="775" y="594"/></g><g id="m26"><use href="#d" x="796" y="594"/></g><g id="m27"><use href="#d" x="818" y="594"/></g>
<g id="n0"><use href="#d" x="258" y="638"/></g><g id="n1"><use href="#d" x="303" y="638"/></g><g id="n2"><use href="#d" x="348" y="638"/></g><g id="n3"><use href="#d" x="392" y="638"/></g><g id="n4"><use href="#d" x="437" y="638"/></g><g id="n5"><use href="#d" x="482" y="638"/></g><g id="n6"><use href="#d" x="527" y="638"/></g><g id="n7"><use href="#d" x="571" y="638"/></g><g id="n8"><use href="#d" x="616" y="638"/></g><g id="n9"><use href="#d" x="661" y="638"/></g><g id="n10"><use href="#d" x="705" y="638"/></g><g id="n11"><use href="#d" x="750" y="638"/></g><g id="n12"><use href="#d" x="795" y="638"/></g>
<g id="o0"><use href="#d" x="370" y="684"/></g><g id="o1"><use href="#d" x="527" y="684"/></g><g id="o2"><use href="#d" x="683" y="684"/></g>
</g>
</svg>
